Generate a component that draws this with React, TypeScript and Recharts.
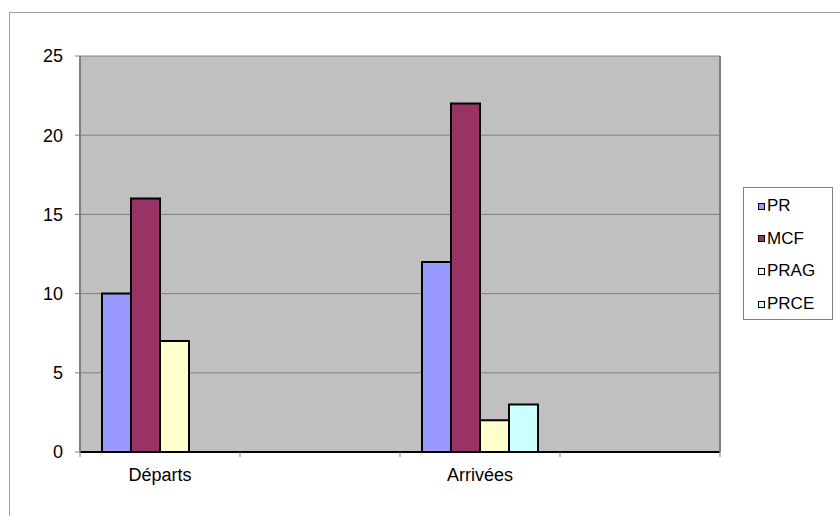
import React from "react";
import { BarChart, Bar, XAxis, YAxis, CartesianGrid } from "recharts";

const categories = ["Départs", " ", "Arrivées", "  "];
const seriesPR = [10, null, 12, null];
const seriesMCF = [16, null, 22, null];
const seriesPRAG = [7, null, 2, null];
const seriesPRCE = [0, null, 3, null];
const yTicks = [0, 5, 10, 15, 20, 25];

const seriesMeta = [
  { key: "PR", color: "#9999FF" },
  { key: "MCF", color: "#993366" },
  { key: "PRAG", color: "#FFFFCC" },
  { key: "PRCE", color: "#CCFFFF" },
];

const data = categories.map((name, i) => ({
  name,
  PR: seriesPR[i],
  MCF: seriesMCF[i],
  PRAG: seriesPRAG[i],
  PRCE: seriesPRCE[i],
}));

const W = 840;
const H = 516;
const M = { top: 56, right: 119, bottom: 34, left: 0 };
const YW = 80;
const PLOT_W = 640;
const BAND = PLOT_W / categories.length;
const FONT = "Liberation Sans, Arial, sans-serif";

const XTick = (props: any) => {
  const { x, y, payload, index } = props;
  const axisY = y - 8;
  const left = x - BAND / 2;
  const right = x + BAND / 2;
  return (
    <g>
      <line x1={left} x2={left} y1={axisY} y2={axisY + 5} stroke="#808080" strokeWidth={1} />
      {index === categories.length - 1 && (
        <line x1={right} x2={right} y1={axisY} y2={axisY + 5} stroke="#808080" strokeWidth={1} />
      )}
      <text x={x} y={axisY + 29} textAnchor="middle" fontSize={18} fontFamily={FONT} fill="#000">
        {payload.value.trim()}
      </text>
    </g>
  );
};

const LegendBox = () => (
  <div
    style={{
      position: "absolute",
      left: 743,
      top: 187,
      width: 90,
      height: 133,
      border: "1px solid #808080",
      background: "#fff",
      boxSizing: "border-box",
      fontFamily: FONT,
      fontSize: 17,
    }}
  >
    {seriesMeta.map((s, i) => (
      <div
        key={s.key}
        style={{
          position: "absolute",
          left: 14,
          top: 8 + i * 32.7,
          height: 20,
          display: "flex",
          alignItems: "center",
          color: "#000",
          lineHeight: "20px",
        }}
      >
        <span
          style={{
            display: "inline-block",
            width: 5,
            height: 5,
            border: "1.5px solid #000",
            background: s.color,
            marginRight: 2,
          }}
        />
        {s.key}
      </div>
    ))}
  </div>
);

export default function App() {
  return (
    <div
      style={{
        position: "absolute",
        left: 0,
        top: 0,
        width: W,
        height: H,
        overflow: "hidden",
        background: "#fff",
      }}
    >
      <div
        style={{
          position: "absolute",
          left: 9,
          top: 12,
          width: W,
          height: H,
          borderLeft: "1px solid #A0A0A0",
          borderTop: "1px solid #A0A0A0",
        }}
      />
      <div style={{ position: "absolute", left: 0, top: 0 }}>
        <BarChart
          width={W}
          height={H}
          data={data}
          margin={M}
          barCategoryGap={22}
          barGap={0}
        >
          <CartesianGrid vertical={false} stroke="#808080" fill="#C0C0C0" strokeWidth={1} />
          <XAxis
            dataKey="name"
            height={30}
            tickLine={false}
            axisLine={{ stroke: "#000", strokeWidth: 2 }}
            tick={<XTick />}
            interval={0}
          />
          <YAxis
            width={YW}
            domain={[0, 25]}
            ticks={yTicks}
            tickSize={5}
            tickMargin={12}
            tickLine={{ stroke: "#808080" }}
            axisLine={{ stroke: "#808080", strokeWidth: 2 }}
            tick={{ fontSize: 18, fontFamily: FONT, fill: "#000" }}
            allowDecimals={false}
          />
          <YAxis
            yAxisId="r"
            orientation="right"
            width={1}
            domain={[0, 25]}
            tick={false}
            tickLine={false}
            axisLine={{ stroke: "#808080", strokeWidth: 2 }}
          />
          {seriesMeta.map((s) => (
            <Bar
              key={s.key}
              dataKey={s.key}
              fill={s.color}
              stroke="#000"
              strokeWidth={2}
              isAnimationActive={false}
            />
          ))}
        </BarChart>
      </div>
      <LegendBox />
    </div>
  );
}
